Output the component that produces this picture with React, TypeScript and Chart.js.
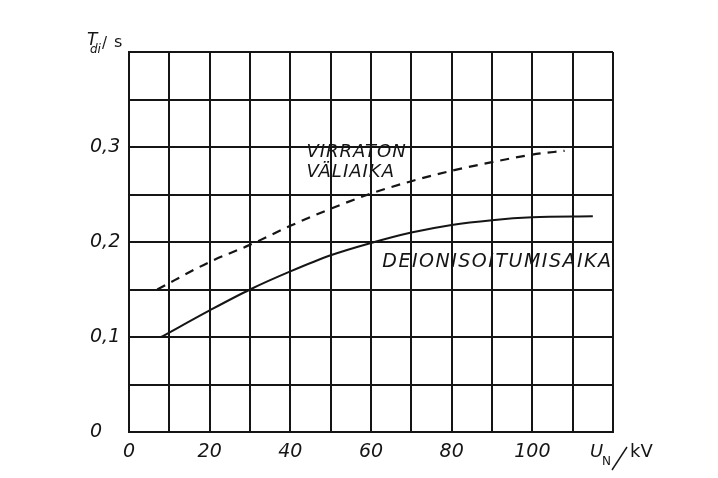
import React, { useEffect, useRef } from 'react';
import { Chart, registerables } from 'chart.js';

Chart.register(...registerables);

// Labelled ticks on the axes
const voltageTicks = [0, 20, 40, 60, 80, 100];
const timeTicks = [0, 0.1, 0.2, 0.3];

// Deionisation time vs nominal voltage (solid curve)
const deionKv = [8, 20, 30, 40, 50, 60, 70, 80, 90, 100, 115];
const deionTime = [0.1, 0.128, 0.15, 0.169, 0.186, 0.199, 0.21, 0.218, 0.223, 0.226, 0.227];

// Dead time (current-free interval) vs nominal voltage (dashed curve)
const deadKv = [7, 20, 30, 40, 50, 60, 70, 80, 90, 100, 108];
const deadTime = [0.15, 0.179, 0.197, 0.217, 0.235, 0.251, 0.264, 0.275, 0.284, 0.292, 0.296];

const FAMILY = "'DejaVu Sans', 'Liberation Sans', sans-serif";
const INK = '#151515';

const labelsPlugin = {
  id: 'curveLabels',
  afterDraw(chart: any) {
    const { ctx, chartArea, scales } = chart;
    const xs = scales.x;
    const ys = scales.y;
    ctx.save();
    ctx.fillStyle = INK;
    ctx.textBaseline = 'middle';
    ctx.textAlign = 'left';

    // curve names
    ctx.font = `italic 18px ${FAMILY}`;
    (ctx as any).letterSpacing = '1px';
    ctx.fillText('VIRRATON', xs.getPixelForValue(44), ys.getPixelForValue(0.294));
    ctx.fillText('VÄLIAIKA', xs.getPixelForValue(44), ys.getPixelForValue(0.273));
    ctx.font = `italic 19px ${FAMILY}`;
    (ctx as any).letterSpacing = '1.5px';
    ctx.fillText('DEIONISOITUMISAIKA', xs.getPixelForValue(62.8), ys.getPixelForValue(0.179));
    (ctx as any).letterSpacing = '0px';

    // y axis title: T_di / s
    ctx.textBaseline = 'alphabetic';
    const l = chartArea.left;
    const t = chartArea.top;
    ctx.font = `italic 17px ${FAMILY}`;
    ctx.fillText('T', l - 42, t - 7);
    ctx.font = `italic 12px ${FAMILY}`;
    ctx.fillText('di', l - 39, t + 1);
    ctx.font = `15px ${FAMILY}`;
    ctx.fillText('/', l - 27, t - 4);
    ctx.font = `16px ${FAMILY}`;
    ctx.fillText('s', l - 15, t - 5);

    // x axis title: U_N / kV
    const r = chartArea.right;
    const b = chartArea.bottom;
    ctx.font = `italic 18px ${FAMILY}`;
    ctx.fillText('U', r - 23, b + 25);
    ctx.font = `12px ${FAMILY}`;
    ctx.fillText('N', r - 11, b + 33);
    ctx.strokeStyle = INK;
    ctx.lineWidth = 1.4;
    ctx.beginPath();
    ctx.moveTo(r + 14, b + 15);
    ctx.lineTo(r - 1, b + 38);
    ctx.stroke();
    ctx.font = `18px ${FAMILY}`;
    ctx.fillText('kV', r + 17, b + 25);
    ctx.restore();
  },
};

function near(v: number, list: number[]) {
  return list.find((t) => Math.abs(t - v) < 1e-6);
}

export default function App() {
  const canvasRef = useRef<HTMLCanvasElement | null>(null);

  useEffect(() => {
    const canvas = canvasRef.current;
    if (!canvas) return;
    const chart = new Chart(canvas, {
      type: 'line',
      data: {
        datasets: [
          {
            label: 'VIRRATON VÄLIAIKA',
            data: deadKv.map((x, i) => ({ x, y: deadTime[i] })),
            borderColor: INK,
            borderWidth: 2.2,
            borderDash: [9, 7],
            pointRadius: 0,
            cubicInterpolationMode: 'monotone',
            fill: false,
          },
          {
            label: 'DEIONISOITUMISAIKA',
            data: deionKv.map((x, i) => ({ x, y: deionTime[i] })),
            borderColor: INK,
            borderWidth: 2,
            pointRadius: 0,
            cubicInterpolationMode: 'monotone',
            fill: false,
          },
        ],
      },
      options: {
        animation: false,
        responsive: true,
        maintainAspectRatio: false,
        layout: { padding: { left: 90, top: 52, right: 105, bottom: 0 } },
        plugins: {
          legend: { display: false },
          tooltip: { enabled: false },
        },
        scales: {
          x: {
            type: 'linear',
            min: 0,
            max: 120,
            afterFit: (s: any) => {
              s.height = 46;
            },
            grid: { color: INK, lineWidth: 2, drawTicks: false },
            border: { color: INK, width: 2 },
            ticks: {
              stepSize: 10,
              autoSkip: false,
              maxRotation: 0,
              padding: 9,
              color: INK,
              font: { family: FAMILY, size: 19, style: 'italic' },
              callback: (v: any) => {
                const m = near(Number(v), voltageTicks);
                return m === undefined ? '' : String(m);
              },
            },
          },
          y: {
            type: 'linear',
            min: 0,
            max: 0.4,
            afterFit: (s: any) => {
              s.width = 39;
            },
            grid: { color: INK, lineWidth: 2, drawTicks: false },
            border: { color: INK, width: 2 },
            ticks: {
              stepSize: 0.05,
              autoSkip: false,
              crossAlign: 'far',
              color: INK,
              font: { family: FAMILY, size: 19, style: 'italic' },
              callback: (v: any) => {
                const m = near(Number(v), timeTicks);
                if (m === undefined) return '';
                return m === 0 ? '0' : m.toFixed(1).replace('.', ',');
              },
            },
          },
        },
      },
      plugins: [labelsPlugin],
    } as any);
    return () => chart.destroy();
  }, []);

  return (
    <div
      style={{
        position: 'fixed',
        left: 0,
        top: 0,
        width: 718,
        height: 478,
        background: '#fff',
      }}
    >
      <canvas ref={canvasRef} />
    </div>
  );
}
